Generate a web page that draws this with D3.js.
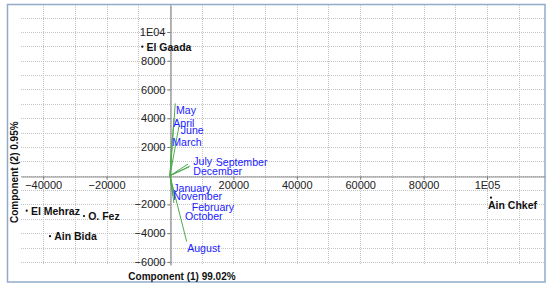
<!DOCTYPE html>
<html><head><meta charset="utf-8">
<script src="https://cdn.jsdelivr.net/npm/d3@7"></script>
<style>
body{margin:0;background:#fff;}
svg{display:block;font-family:"Liberation Sans",Arial,Helvetica,sans-serif;}
</style>
</head><body>
<svg id="c" width="550" height="288"></svg>
<script>
// ---- data ----
const sites = ["El Gaada", "El Mehraz", "O. Fez", "Ain Bida", "Ain Chkef"];
const siteX = [-8740, -45200, -27130, -37850, 101260];
const siteY = [8977, -2436, -2804, -4210, -1531];

const months = ["May", "April", "June", "March", "July", "September", "December",
                "January", "November", "February", "October", "August"];
const monthX = [1670, 1260, 2840, 630, 5680, 6310, 5990, 470, 950, 1580, 1260, 5270];
const monthY = [5030, 4015, 3460, 2620, 810, 675, 605, -580, -1410, -1620, -1900, -4590];
const monthLabelX = [1890, 1040, 3380, 730, 7350, 14420, 7350, 1040, 1040, 6850, 4730, 5420];
const monthLabelY = [4290, 3410, 2880, 2080, 750, 680, 50, -1140, -1690, -2450, -3080, -5340];

const xTicks = [-40000, -20000, 20000, 40000, 60000, 80000, 100000];
const xTickLabels = ["\u221240000", "\u221220000", "20000", "40000", "60000", "80000", "1E05"];
const yTicks = [-6000, -4000, -2000, 2000, 4000, 6000, 8000, 10000];
const yTickLabels = ["\u22126000", "\u22124000", "\u22122000", "2000", "4000", "6000", "8000", "1E04"];
const xGrid = [-40000, -30000, -20000, -10000, 0, 10000, 20000, 30000, 40000, 50000, 60000, 70000, 80000, 90000, 100000, 110000];
const yGrid = [-6000, -5000, -4000, -3000, -2000, -1000, 0, 1000, 2000, 3000, 4000, 5000, 6000, 7000, 8000, 9000, 10000, 11000];

const xTitle = "Component (1) 99.02%";
const yTitle = "Component (2) 0.95%";

// ---- layout ----
const svg = d3.select("#c");
const L = 21, R = 545, T = 5, B = 265;
const x = d3.scaleLinear().domain([-47000, 118300]).range([L, R]);
const y = d3.scaleLinear().domain([-6214, 11880]).range([B, T]);

// frame
svg.append("rect").attr("x", 7.5).attr("y", 4.5).attr("width", 537.5).attr("height", 277.5)
  .attr("fill", "none").attr("stroke", "#93aacb").attr("stroke-width", 1.5);

// grid
const g = svg.append("g");
g.selectAll("line.vg").data(xGrid).join("line").attr("class", "vg")
  .attr("x1", d => Math.round(x(d)) + 0.5).attr("x2", d => Math.round(x(d)) + 0.5)
  .attr("y1", T).attr("y2", B)
  .attr("stroke", "#c4c4c4").attr("stroke-dasharray", "1,1");
g.selectAll("line.hg").data(yGrid).join("line").attr("class", "hg")
  .attr("y1", d => Math.round(y(d)) + 0.5).attr("y2", d => Math.round(y(d)) + 0.5)
  .attr("x1", L).attr("x2", R)
  .attr("stroke", "#c4c4c4").attr("stroke-dasharray", "1,1");

// axes
const xAxis = d3.axisBottom(x).tickValues(xTicks).tickFormat((d, i) => xTickLabels[i])
  .tickSizeInner(3).tickSizeOuter(0).tickPadding(2);
const yAxis = d3.axisLeft(y).tickValues(yTicks).tickFormat((d, i) => yTickLabels[i])
  .tickSizeInner(3).tickSizeOuter(0).tickPadding(2);

const gx = svg.append("g").attr("transform", `translate(0,${Math.round(y(0)) + 0.5})`).call(xAxis);
const gy = svg.append("g").attr("transform", `translate(${Math.round(x(0)) + 0.5},0)`).call(yAxis);
[gx, gy].forEach(a => {
  a.select(".domain").attr("stroke", "#8a8a8a").attr("stroke-width", 1.2);
  a.selectAll(".tick line").attr("stroke", "#777");
  a.selectAll(".tick text").attr("fill", "#222").style("font-size", "11px")
   .style("font-family", '"Liberation Sans",Arial,sans-serif');
});

// month vectors
svg.append("g").selectAll("line").data(months).join("line")
  .attr("x1", x(0)).attr("y1", y(0))
  .attr("x2", (d, i) => x(monthX[i])).attr("y2", (d, i) => y(monthY[i]))
  .attr("stroke", "#4faa4f").attr("stroke-width", 1);
svg.append("g").selectAll("text").data(months).join("text")
  .attr("x", (d, i) => x(monthLabelX[i])).attr("y", (d, i) => y(monthLabelY[i]))
  .attr("fill", "#1c1cff").style("font-size", "10.6px").text(d => d);

// sites
const sg = svg.append("g");
sg.selectAll("circle").data(sites).join("circle")
  .attr("cx", (d, i) => x(siteX[i])).attr("cy", (d, i) => y(siteY[i])).attr("r", 1.1)
  .attr("fill", "#111");
sg.selectAll("text").data(sites).join("text")
  .each(function (d, i) {
    const px = x(siteX[i]), py = y(siteY[i]);
    const t = d3.select(this).text(d).style("font-size", "10.5px").style("font-weight", "bold").attr("fill", "#111");
    const w = this.getComputedTextLength();
    if (px + 4.5 + w > R - 2) {
      t.attr("x", px - 3).attr("y", py + 11.6);
    } else {
      t.attr("x", px + 4.2).attr("y", py + 3.8);
    }
  });

// titles
svg.append("text").attr("x", x(0) + 12).attr("y", 279.5).attr("text-anchor", "middle")
  .style("font-size", "10px").style("font-weight", "bold").attr("fill", "#111").text(xTitle);
svg.append("text").attr("transform", `translate(17.5,${y(0) - 3.5}) rotate(-90)`).attr("text-anchor", "middle")
  .style("font-size", "10px").style("font-weight", "bold").attr("fill", "#111").text(yTitle);
</script>
</body></html>
